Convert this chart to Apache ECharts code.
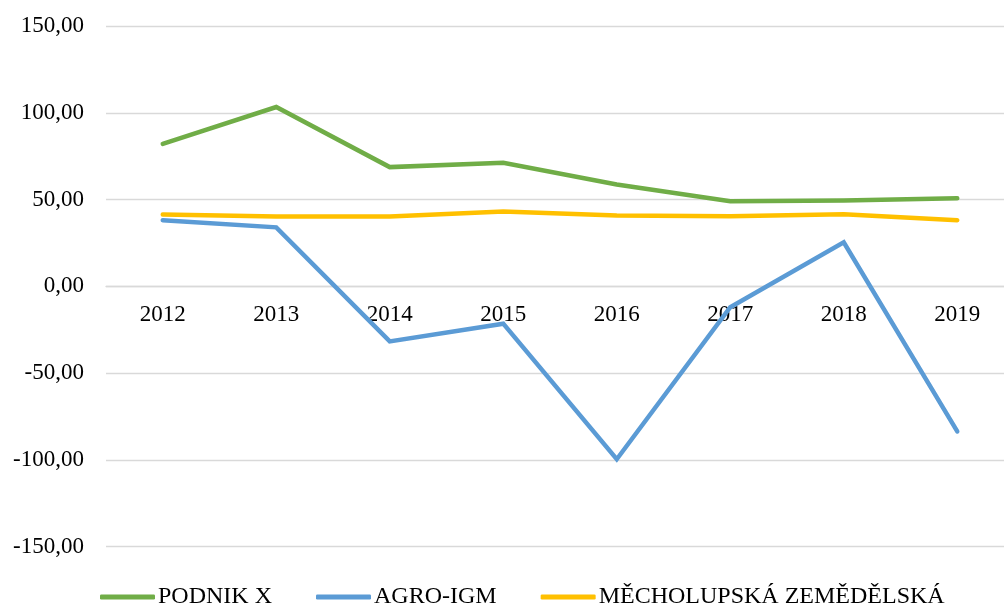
<!DOCTYPE html>
<html>
<head>
<meta charset="utf-8">
<script src="https://cdn.jsdelivr.net/npm/echarts@6/dist/echarts.min.js"></script>
<style>
  html, body { margin: 0; padding: 0; background: #fff; overflow: hidden; }
  /* o 10px širší než okno, mřížka v originálu přesahuje pravý okraj */
  #chart { width: 1014px; height: 606px; }
</style>
</head>
<body>
<div id="chart"></div>
<script>
// roky
const years = ['2012', '2013', '2014', '2015', '2016', '2017', '2018', '2019'];
// hodnoty
const podnikX = [82.1, 103.3, 68.7, 71.2, 58.7, 49.0, 49.4, 50.8];
const agroIgm = [38.1, 34.0, -31.7, -21.5, -99.6, -12.0, 25.4, -83.6];
const mecholupska = [41.4, 40.2, 40.2, 43.1, 40.8, 40.4, 41.5, 38.1];
const seriesNames = ['PODNIK X', 'AGRO-IGM', 'MĚCHOLUPSKÁ ZEMĚDĚLSKÁ'];

const font = '"Liberation Serif", "Times New Roman", serif';

const myChart = echarts.init(document.getElementById('chart'));

const lineSeries = (name, data, color) => ({
  name: name,
  type: 'line',
  data: data,
  symbol: 'none',
  color: color,
  lineStyle: {
    color: color,
    width: 4.5,
    cap: 'round',
    join: 'miter',
  },
});

const option = {
  animation: false,
  backgroundColor: '#fff',
  grid: {
    left: 106,
    right: 0,
    top: 26,
    bottom: 59.3,
    containLabel: false,
  },
  legend: {
    left: 100,
    top: 585,
    padding: 0,
    itemGap: 44,
    itemWidth: 55,
    itemHeight: 5,
    icon: 'roundRect',
    textStyle: {
      fontFamily: font,
      fontSize: 24,
      color: '#000',
      padding: [0, 0, 0, -2],
    },
    data: seriesNames,
  },
  xAxis: {
    type: 'category',
    data: years,
    boundaryGap: true,
    // osa s popisky leží na nule
    offset: -260.35,
    axisLine: {
      onZero: false,
      lineStyle: { color: '#d9d9d9', width: 1.3 },
    },
    axisTick: { show: false },
    axisLabel: {
      fontFamily: font,
      fontSize: 23,
      color: '#000',
      margin: 17,
    },
  },
  yAxis: {
    type: 'value',
    min: -150,
    max: 150,
    interval: 50,
    axisLine: { show: false },
    axisTick: { show: false },
    splitLine: {
      lineStyle: { color: '#d9d9d9', width: 1.3 },
    },
    axisLabel: {
      fontFamily: font,
      fontSize: 23,
      color: '#000',
      margin: 22,
      formatter: (v) => v.toFixed(2).replace('.', ','),
    },
  },
  series: [
    lineSeries(seriesNames[0], podnikX, '#70AD47'),
    lineSeries(seriesNames[1], agroIgm, '#5B9BD5'),
    lineSeries(seriesNames[2], mecholupska, '#FFC000'),
  ],
};
myChart.setOption(option);
</script>
</body>
</html>
